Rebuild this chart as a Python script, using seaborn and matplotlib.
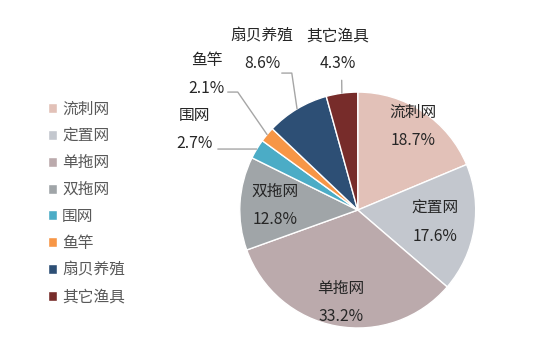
import numpy as np
import matplotlib
matplotlib.use("Agg")
import matplotlib.pyplot as plt
import seaborn as sns

sns.set_theme(style="white")
plt.rcParams['font.family'] = ['Noto Sans CJK SC', 'DejaVu Sans']

# =========================
#  DATA
# =========================
gear_types = ['流刺网', '定置网', '单拖网', '双拖网', '围网', '鱼竿', '扇贝养殖', '其它渔具']
shares = [18.7, 17.6, 33.2, 12.8, 2.7, 2.1, 8.6, 4.3]
pct_labels = ['18.7%', '17.6%', '33.2%', '12.8%', '2.7%', '2.1%', '8.6%', '4.3%']

colors = sns.color_palette(['#E2C1B8', '#C3C7CE', '#BBAAAC', '#A0A5A8',
                            '#4BACC6', '#F79646', '#2D4F75', '#772C2A'])

# label layout: inside labels -> radius factor, outside labels -> (text pos, start, elbow)
inside_r = {0: 0.85, 1: 0.66, 2: 0.80, 3: 0.70}
outside = {
    4: ((-1.38, 0.68), (-1.186, 0.517), (-0.92, 0.517)),
    5: ((-1.28, 1.15), (-1.102, 1.0), (-1.017, 1.0)),
    6: ((-0.81, 1.36), (-0.644, 1.161), (-0.559, 1.161)),
    7: ((-0.17, 1.36), (-0.136, 1.10), (-0.136, 1.10)),
}

# =========================
#  PIE
# =========================
fig = plt.figure(figsize=(5.58, 3.58), dpi=100)
ax = fig.add_axes([0.4296, 0.0838, 0.423, 0.659])

wedges, _ = ax.pie(shares, colors=colors, startangle=90, counterclock=False,
                   radius=1.0, wedgeprops=dict(edgecolor='white', linewidth=1))
ax.set_xlim(-1, 1)
ax.set_ylim(-1, 1)
ax.set_aspect('equal')
ax.axis('off')

txt_color = '#262626'
dy = 0.118  # half line gap in data units

for i, w in enumerate(wedges):
    mid = np.deg2rad((w.theta1 + w.theta2) / 2)
    if i in inside_r:
        r = inside_r[i]
        x, y = r * np.cos(mid), r * np.sin(mid)
    else:
        (x, y), start, elbow = outside[i]
        end = (np.cos(mid), np.sin(mid))
        ax.plot([start[0], elbow[0], end[0]], [start[1], elbow[1], end[1]],
                color='#A6A6A6', linewidth=1, clip_on=False)
    ax.text(x, y + dy, gear_types[i], ha='center', va='center', fontsize=11.3,
            color=txt_color, clip_on=False)
    ax.text(x, y - dy, pct_labels[i], ha='center', va='center', fontsize=11.3,
            color=txt_color, clip_on=False)

# =========================
#  LEGEND
# =========================
leg = fig.legend(wedges, gear_types, loc='upper left',
                 bbox_to_anchor=(48 / 558, 1 - 101 / 358),
                 frameon=False, fontsize=11.3, borderpad=0, borderaxespad=0,
                 handlelength=0.6, handleheight=0.6, handletextpad=0.3,
                 labelspacing=0.62)
for t in leg.get_texts():
    t.set_color('#595959')

fig.savefig('out.png', dpi=100)
